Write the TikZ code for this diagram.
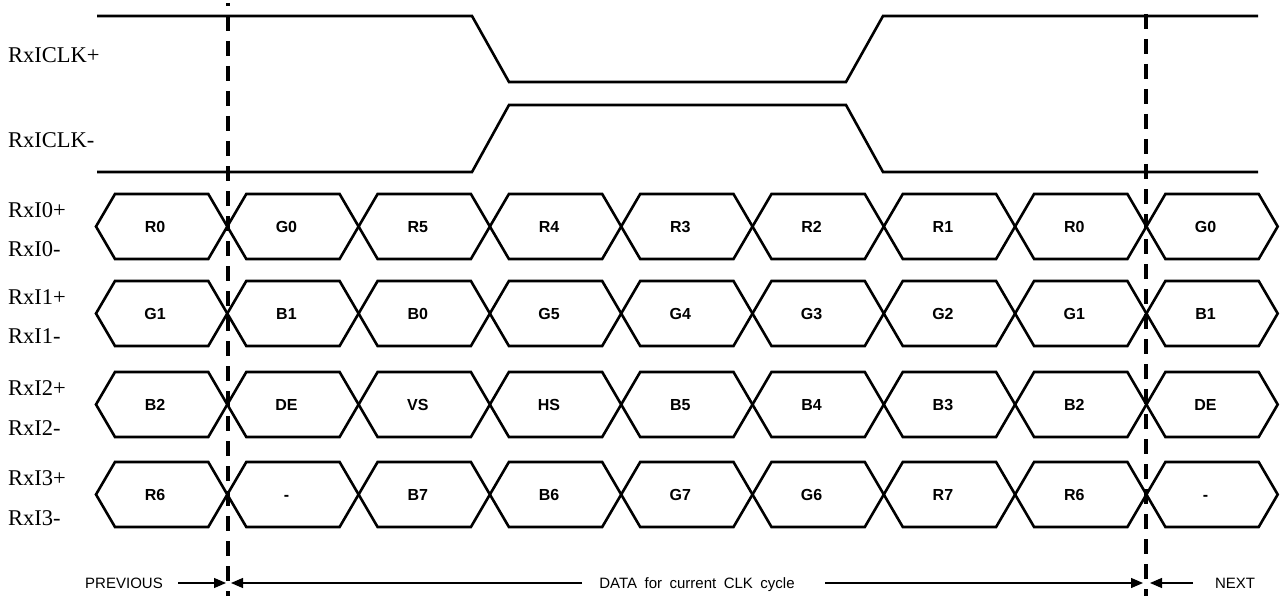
\documentclass[tikz,border=0pt]{standalone}
\usepackage{fontspec}
\setmainfont{Liberation Serif}
\newfontfamily\sansf{Liberation Sans}
\usetikzlibrary{arrows.meta}
\begin{document}
\begin{tikzpicture}[x=1bp,y=-1bp,
  sigline/.style={line width=2.6bp, line join=miter},
  hexline/.style={line width=2.6bp, line join=miter},
  boundary/.style={line width=4bp, dash pattern=on 15bp off 10bp},
  lbl/.style={font=\fontsize{22.5bp}{24bp}\selectfont, anchor=base west, inner sep=0pt},
  celltext/.style={font=\sansf\bfseries\fontsize{16bp}{17bp}\selectfont, inner sep=0pt, anchor=base},
  bottomtext/.style={font=\sansf\fontsize{15bp}{16bp}\selectfont, inner sep=0pt, anchor=base},
  spanarrow/.style={line width=1.3bp, -{Triangle[length=12bp,width=10bp]}}
]
\useasboundingbox[fill=white] (0,0) rectangle (1281,598);

% clock signals
\draw[sigline] (97,16) -- (472,16) -- (509,82) -- (846,82) -- (883,16) -- (1258,16);
\draw[sigline] (97,172) -- (472,172) -- (509,105) -- (846,105) -- (883,172) -- (1258,172);
\node[lbl] (clkp) at (8,63) {RxICLK+};
\node[lbl] (clkn) at (8,148) {RxICLK-};

% data lanes
\foreach \c in {226.5,313.5,404.5,494.5} {
  \foreach \k in {0,...,8} {
    \pgfmathsetmacro\xa{96+131.3*\k}
    \pgfmathsetmacro\xb{\xa+131.3}
    \draw[hexline] (\xa,\c) -- (\xa+19,\c-32.5) -- (\xb-19,\c-32.5) -- (\xb,\c)
      -- (\xb-19,\c+32.5) -- (\xa+19,\c+32.5) -- cycle;
  }
}
\foreach \k/\t in {0/R0,1/G0,2/R5,3/R4,4/R3,5/R2,6/R1,7/R0,8/G0}
  \node[celltext] (ra\k) at ({96+131.3*\k+59.15},232.3) {\t};
\foreach \k/\t in {0/G1,1/B1,2/B0,3/G5,4/G4,5/G3,6/G2,7/G1,8/B1}
  \node[celltext] (rb\k) at ({96+131.3*\k+59.15},319.3) {\t};
\foreach \k/\t in {0/B2,1/DE,2/VS,3/HS,4/B5,5/B4,6/B3,7/B2,8/DE}
  \node[celltext] (rc\k) at ({96+131.3*\k+59.15},410.3) {\t};
\foreach \k/\t in {0/R6,1/-,2/B7,3/B6,4/G7,5/G6,6/R7,7/R6,8/-}
  \node[celltext] (rd\k) at ({96+131.3*\k+59.15},500.3) {\t};

\node[lbl] (l0p) at (8,217.75) {RxI0+};
\node[lbl] (l0n) at (8,257) {RxI0-};
\node[lbl] (l1p) at (8,304.75) {RxI1+};
\node[lbl] (l1n) at (8,344) {RxI1-};
\node[lbl] (l2p) at (8,395.75) {RxI2+};
\node[lbl] (l2n) at (8,435) {RxI2-};
\node[lbl] (l3p) at (8,485.75) {RxI3+};
\node[lbl] (l3n) at (8,525) {RxI3-};

% cycle boundaries
\coordinate (bLtop) at (228,3);
\coordinate (bLbot) at (228,596);
\coordinate (bRtop) at (1146,14);
\coordinate (bRbot) at (1146,596);
\draw[boundary, dash phase=12bp] (bLtop) -- (bLbot);
\draw[boundary] (bRtop) -- (bRbot);

% bottom annotations
\node[bottomtext] (prev) at (124,588.5) {PREVIOUS};
\node[bottomtext] (data) at (697,588.5) {\spaceskip=7.5bp plus 0bp DATA for current CLK cycle};
\node[bottomtext] (next) at (1235,588.5) {NEXT};
\coordinate (pS) at (178,583);
\coordinate (pE) at (226,583);
\coordinate (dLS) at (582,583);
\coordinate (dLE) at (231,583);
\coordinate (dRS) at (825,583);
\coordinate (dRE) at (1143,583);
\coordinate (nS) at (1193,583);
\coordinate (nE) at (1150,583);
\draw[spanarrow] (pS) -- (pE);
\draw[spanarrow] (dLS) -- (dLE);
\draw[spanarrow] (dRS) -- (dRE);
\draw[spanarrow] (nS) -- (nE);
\end{tikzpicture}
\end{document}
